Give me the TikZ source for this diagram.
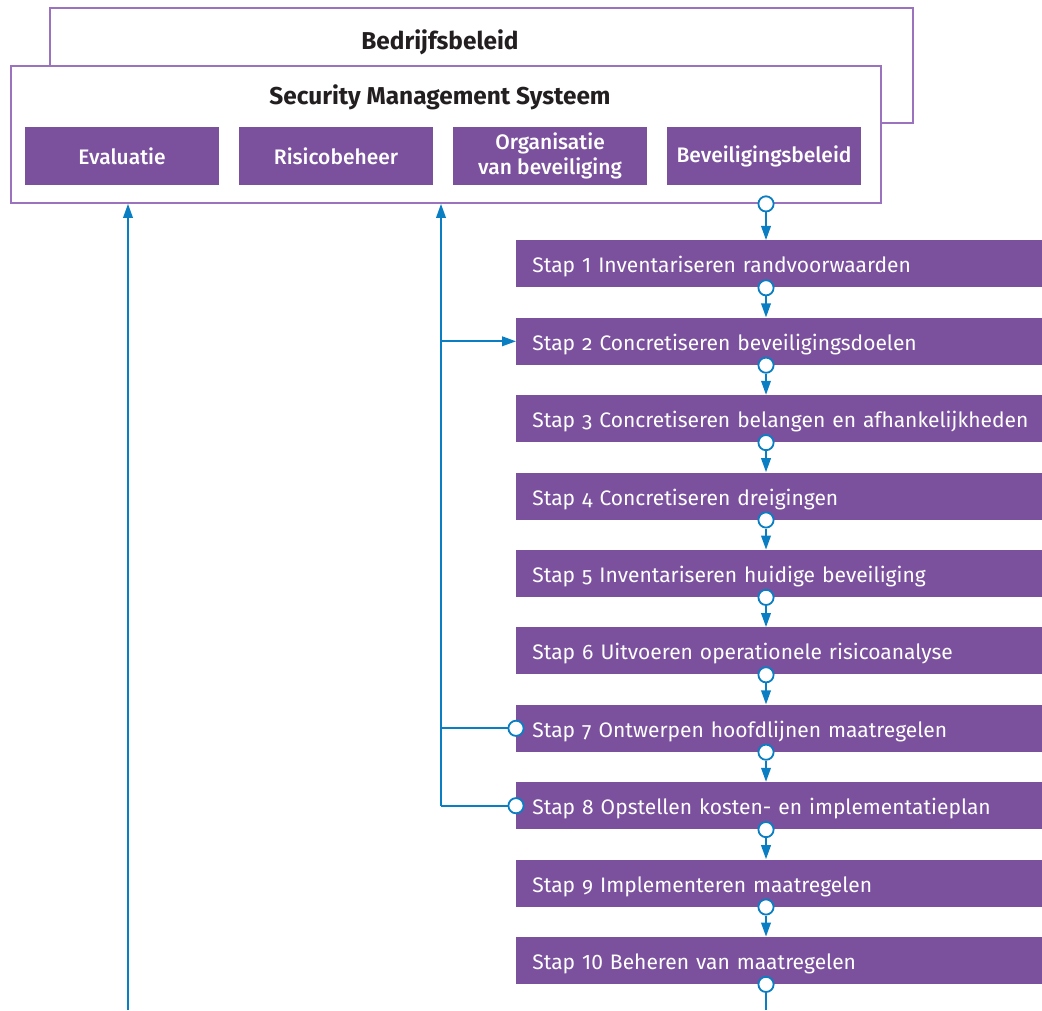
\documentclass[tikz,border=0pt]{standalone}
\usepackage{fontspec}
\setmainfont{Fira Sans}
\newfontfamily\osf{Fira Sans}[Numbers=OldStyle]
\newfontfamily\medfont{Fira Sans Medium}
\usetikzlibrary{arrows.meta,fit}
\definecolor{purp}{HTML}{7B519E}
\definecolor{frame}{HTML}{9A72BE}
\definecolor{flowblue}{HTML}{0A7EC2}
\definecolor{ink}{HTML}{231F20}
\tikzset{
  outerbox/.style={draw=frame, line width=0.9pt, inner sep=0pt},
  title/.style={font=\bfseries\fontsize{12.2}{13}\selectfont, text=ink},
  pillar/.style={fill=purp, inner sep=0pt},
  pillartext/.style={text=white, align=center,
    font=\medfont\fontsize{10.5}{12.5}\selectfont},
  stepbox/.style={fill=purp, anchor=north west, text=white, align=left,
    text width=255pt, inner xsep=8pt, minimum height=23.5pt,
    text height=9pt, text depth=0pt,
    font=\fontsize{10.5}{12}\selectfont},
  port/.style={circle, draw=flowblue, fill=white, line width=0.9pt,
    minimum size=7.6pt, inner sep=0pt},
  flow/.style={draw=flowblue, line width=0.9pt,
    -{Triangle[length=7pt,width=4.8pt]}},
  wire/.style={draw=flowblue, line width=0.9pt},
}
\begin{document}
\begin{tikzpicture}[x=0.5pt, y=-0.5pt]
\useasboundingbox (0,0) rectangle (1042,1010);

% Company policy frame, partly covered by the management system frame
\node[outerbox, fit={(50,8) (913,123)}] (bedrijf) {};
\node[title] (tbed) at (440,42) {Bedrijfsbeleid};
\node[outerbox, fill=white, fit={(11,66) (881,203)}] (sms) {};
\node[title] (tsms) at (440,97) {Security Management Systeem};

% The four pillars
\node[pillar, fit={(25,127) (219,185)}] (eval) {};
\node[pillartext] (teval) at (eval.center) {Evaluatie};
\node[pillar, fit={(239,127) (433,185)}] (risico) {};
\node[pillartext] (trisico) at (risico.center) {Risicobeheer};
\node[pillar, fit={(453,127) (647,185)}] (org) {};
\node[pillartext] (torg) at (org.center) {Organisatie\\van beveiliging};
\node[pillar, fit={(667,127) (861,185)}] (belrd) {};
\node[pillartext] (tbelrd) at (belrd.center) {Beveiligingsbeleid};

% The ten steps
\node[stepbox] (s1)  at (516,240.0) {Stap 1 Inventariseren randvoorwaarden};
\node[stepbox] (s2)  at (516,317.4) {Stap {\osf 2} Concretiseren beveiligingsdoelen};
\node[stepbox] (s3)  at (516,394.8) {Stap {\osf 3} Concretiseren belangen en afhankelijkheden};
\node[stepbox] (s4)  at (516,472.2) {Stap {\osf 4} Concretiseren dreigingen};
\node[stepbox] (s5)  at (516,549.6) {Stap {\osf 5} Inventariseren huidige beveiliging};
\node[stepbox] (s6)  at (516,627.0) {Stap {\osf 6} Uitvoeren operationele risicoanalyse};
\node[stepbox] (s7)  at (516,704.4) {Stap {\osf 7} Ontwerpen hoofdlijnen maatregelen};
\node[stepbox] (s8)  at (516,781.8) {Stap {\osf 8} Opstellen kosten- en implementatieplan};
\node[stepbox] (s9)  at (516,859.2) {Stap {\osf 9} Implementeren maatregelen};
\node[stepbox] (s10) at (516,936.6) {Stap 10 Beheren van maatregelen};

% Output ports under the system frame and under each step
\path (766,0) coordinate (colX) (441,0) coordinate (spineX) (128,0) coordinate (leftX);
\node[port] (c0) at (colX |- sms.south) {};
\foreach \i in {1,...,10} {
  \node[port] (c\i) at (colX |- s\i.south) {};
}

% Chain of steps
\draw[flow] (c0.south) -- (c0.south |- s1.north);
\foreach \i/\j in {1/2,2/3,3/4,4/5,5/6,6/7,7/8,8/9,9/10} {
  \draw[flow] (c\i.south) -- (c\i.south |- s\j.north);
}
\coordinate (tail) at (766,1010);
\draw[wire] (c10.south) -- (tail);

% Feedback into the management system
\coordinate (leftfoot) at (128,1010);
\draw[flow] (leftfoot) -- (leftX |- sms.south);

\node[port] (w7) at (s7.west) {};
\node[port] (w8) at (s8.west) {};
\coordinate (j2) at (spineX |- s2.west);
\coordinate (j7) at (spineX |- s7.west);
\coordinate (j8) at (spineX |- s8.west);
\draw[flow] (j8) -- (spineX |- sms.south);
\draw[flow] (j2) -- (s2.west);
\draw[wire] (j7) -- (w7.west);
\draw[wire] (j8) -- (w8.west);
\end{tikzpicture}
\end{document}
